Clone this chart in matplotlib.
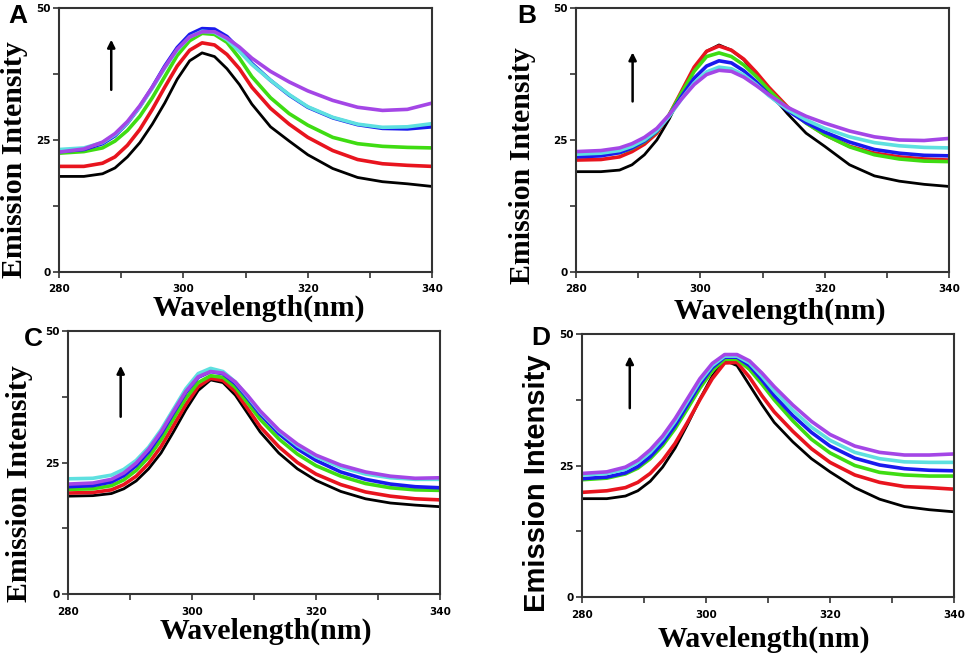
import numpy as np
import matplotlib
matplotlib.use("Agg")
import matplotlib.pyplot as plt
from matplotlib.ticker import MultipleLocator

# --- data ---
wl = [280, 284, 287, 289, 291, 293, 295, 297, 299, 301, 303, 305, 307, 309,
      311, 314, 317, 320, 324, 328, 332, 336, 340]

A_black = [18.1, 18.1, 18.6, 19.7, 21.8, 24.5, 28.0, 32.0, 36.5, 40.0, 41.5, 40.8, 38.5, 35.5,
           31.8, 27.5, 24.8, 22.2, 19.6, 17.9, 17.1, 16.7, 16.2]
A_red = [20.0, 20.0, 20.6, 21.8, 24.0, 27.0, 30.8, 35.0, 39.0, 42.0, 43.4, 43.0, 41.2, 38.5,
         35.0, 31.0, 28.0, 25.5, 23.0, 21.3, 20.5, 20.2, 20.0]
A_green = [22.5, 22.8, 23.5, 24.8, 26.8, 29.5, 33.0, 37.0, 41.0, 43.8, 45.2, 45.0, 43.5, 40.5,
           37.0, 33.0, 30.0, 27.8, 25.5, 24.3, 23.8, 23.6, 23.5]
A_cyan = [23.2, 23.5, 24.5, 26.0, 28.3, 31.3, 34.8, 38.6, 42.0, 44.5, 45.6, 45.4, 44.0, 41.8,
          39.3, 36.3, 33.6, 31.3, 29.3, 28.0, 27.4, 27.5, 28.1]
A_blue = [22.8, 23.2, 24.3, 25.8, 28.2, 31.3, 35.0, 39.0, 42.5, 45.0, 46.1, 46.0, 44.6, 42.2,
          39.5, 36.3, 33.5, 31.2, 29.2, 27.9, 27.2, 27.1, 27.5]
A_violet = [22.7, 23.3, 24.6, 26.2, 28.5, 31.5, 35.0, 38.8, 42.2, 44.5, 45.5, 45.5, 44.3, 42.6,
            40.5, 38.0, 36.0, 34.3, 32.5, 31.2, 30.6, 30.8, 32.0]

B_black = [19.0, 19.0, 19.3, 20.3, 22.2, 25.0, 29.0, 33.8, 38.5, 41.8, 43.0, 42.0, 40.2, 37.3,
           34.2, 30.0, 26.3, 23.8, 20.3, 18.2, 17.2, 16.6, 16.2]
B_red = [21.2, 21.3, 21.8, 22.8, 24.2, 26.3, 29.8, 34.3, 38.8, 41.8, 42.8, 42.0, 40.3, 37.8,
         35.0, 31.3, 28.3, 26.0, 23.8, 22.5, 21.8, 21.4, 21.2]
B_green = [22.0, 22.2, 22.6, 23.4, 24.7, 26.6, 29.8, 34.0, 38.0, 40.8, 41.5, 40.8, 39.2, 37.0,
           34.5, 31.0, 28.2, 26.0, 23.7, 22.2, 21.4, 21.0, 20.9]
B_cyan = [22.3, 22.5, 23.0, 23.8, 25.0, 26.8, 29.5, 32.8, 35.8, 37.9, 38.8, 38.5, 37.3, 35.5,
          33.4, 30.8, 28.8, 27.2, 25.6, 24.5, 23.9, 23.6, 23.5]
B_blue = [21.8, 22.0, 22.6, 23.5, 24.8, 26.7, 29.6, 33.3, 36.7, 39.0, 40.0, 39.6, 38.1, 36.0,
          33.6, 30.6, 28.3, 26.5, 24.6, 23.2, 22.5, 22.1, 22.0]
B_violet = [22.8, 23.0, 23.5, 24.3, 25.5, 27.2, 29.8, 32.8, 35.5, 37.4, 38.2, 38.0, 36.9, 35.3,
            33.6, 31.2, 29.5, 28.2, 26.7, 25.6, 25.0, 24.9, 25.3]

C_black = [18.6, 18.7, 19.1, 20.0, 21.5, 23.8, 26.8, 30.8, 35.0, 38.7, 40.7, 40.2, 37.8, 34.3,
           30.8, 26.8, 23.8, 21.6, 19.5, 18.1, 17.3, 16.9, 16.6]
C_red = [19.2, 19.3, 19.8, 20.8, 22.4, 24.8, 28.0, 32.0, 36.0, 39.4, 41.0, 40.6, 38.5, 35.2,
         31.8, 28.0, 25.0, 22.8, 20.8, 19.4, 18.6, 18.1, 17.9]
C_green = [19.9, 20.0, 20.6, 21.7, 23.5, 26.0, 29.3, 33.3, 37.2, 40.2, 41.5, 41.2, 39.3, 36.3,
           33.2, 29.5, 26.6, 24.4, 22.4, 21.0, 20.2, 19.8, 19.7]
C_cyan = [21.9, 22.0, 22.6, 23.7, 25.4, 27.9, 31.2, 35.1, 39.0, 41.9, 42.9, 42.3, 40.3, 37.5,
          34.6, 31.0, 28.2, 26.1, 24.1, 22.8, 22.1, 21.8, 21.8]
C_blue = [20.4, 20.6, 21.3, 22.5, 24.4, 27.0, 30.4, 34.4, 38.3, 41.2, 42.3, 41.9, 40.0, 37.2,
          34.2, 30.5, 27.6, 25.4, 23.2, 21.8, 20.9, 20.4, 20.2]
C_violet = [20.9, 21.1, 21.8, 23.0, 24.9, 27.5, 30.8, 34.7, 38.5, 41.3, 42.3, 42.0, 40.3, 37.7,
            34.8, 31.2, 28.5, 26.4, 24.5, 23.2, 22.4, 22.0, 22.1]

D_black = [18.7, 18.7, 19.2, 20.2, 22.0, 24.7, 28.3, 32.8, 37.6, 42.0, 45.0, 44.0, 40.3, 36.6,
           33.2, 29.5, 26.3, 23.8, 20.8, 18.6, 17.2, 16.6, 16.2]
D_red = [19.9, 20.2, 20.8, 21.8, 23.5, 26.0, 29.2, 33.2, 37.5, 41.5, 44.5, 44.6, 41.8, 38.3,
         35.2, 31.5, 28.2, 25.6, 23.2, 21.8, 21.0, 20.8, 20.5]
D_green = [22.3, 22.6, 23.4, 24.5, 26.3, 28.8, 32.0, 35.8, 39.7, 43.0, 45.2, 45.2, 43.3, 40.5,
           37.5, 33.5, 30.0, 27.4, 25.0, 23.7, 23.2, 23.0, 23.0]
D_cyan = [23.2, 23.5, 24.3, 25.6, 27.5, 30.1, 33.4, 37.2, 41.0, 44.0, 45.8, 45.8, 44.5, 42.0,
          39.2, 35.5, 32.3, 29.8, 27.5, 26.3, 25.7, 25.6, 25.6]
D_blue = [22.5, 22.8, 23.6, 24.8, 26.7, 29.3, 32.6, 36.5, 40.4, 43.6, 45.6, 45.6, 44.0, 41.3,
          38.3, 34.5, 31.3, 28.7, 26.4, 25.1, 24.4, 24.1, 24.0]
D_violet = [23.5, 23.8, 24.7, 26.0, 28.0, 30.6, 33.9, 37.7, 41.5, 44.4, 46.1, 46.1, 44.9, 42.6,
            40.0, 36.5, 33.4, 30.9, 28.7, 27.5, 27.0, 27.0, 27.2]

panels = ["A", "B", "C", "D"]
curves = {
    "A": [A_black, A_red, A_green, A_blue, A_cyan, A_violet],
    "B": [B_black, B_red, B_green, B_blue, B_cyan, B_violet],
    "C": [C_black, C_red, C_green, C_blue, C_cyan, C_violet],
    "D": [D_black, D_red, D_green, D_blue, D_cyan, D_violet],
}
colors = ["#000000", "#e8141e", "#3fdc12", "#1a1aee", "#5ee0e0", "#a446e6"]
widths = [2.0, 2.6, 2.6, 2.6, 2.6, 2.6]

# arrow (x, y_start, y_end) in data units
arrows = {"A": (288.4, 34.5, 44.0), "B": (289.1, 32.3, 41.6),
          "C": (288.5, 33.7, 43.4), "D": (287.7, 35.9, 45.8)}

# layout (figure fractions / pixels)
axes_pos = {"A": [0.061, 0.5854, 0.386, 0.4024],
            "B": [0.5957, 0.5854, 0.3857, 0.4024],
            "C": [0.0703, 0.0945, 0.3847, 0.4009],
            "D": [0.6019, 0.0899, 0.3847, 0.4009]}
letter_xy = {"A": (18, 16), "B": (527, 16), "C": (33, 339), "D": (541, 338)}
ylab_xy = {"A": (15, 160), "B": (523, 166), "C": (20, 484), "D": (537, 483)}
xlab_xy = {"A": (259, 308), "B": (780, 311), "C": (266, 631), "D": (764, 639)}

W, H = 967, 656
fig = plt.figure(figsize=(W / 100, H / 100), dpi=100)

for p in panels:
    ax = fig.add_axes(axes_pos[p])
    for y, c, lw in zip(curves[p], colors, widths):
        ax.plot(wl, y, color=c, lw=lw, solid_capstyle="round")
    ax.set_xlim(280, 340)
    ax.set_ylim(0, 50)
    ax.xaxis.set_major_locator(MultipleLocator(20))
    ax.xaxis.set_minor_locator(MultipleLocator(10))
    ax.yaxis.set_major_locator(MultipleLocator(25))
    ax.yaxis.set_minor_locator(MultipleLocator(12.5))
    ax.tick_params(which="both", direction="out", length=4, width=1.2, color="#333333")
    ax.tick_params(labelsize=7.5, pad=2)
    ax.tick_params(axis="x", pad=5)
    for lab in ax.get_xticklabels() + ax.get_yticklabels():
        lab.set_fontweight("bold")
    for s in ax.spines.values():
        s.set_linewidth(1.5)
        s.set_color("#333333")
    ax_x, y0, y1 = arrows[p]
    ax.annotate("", xy=(ax_x, y1), xytext=(ax_x, y0),
                arrowprops=dict(arrowstyle="-|>", color="black", lw=1.8,
                                mutation_scale=11, shrinkA=0, shrinkB=0))

    lx, ly = letter_xy[p]
    fig.text(lx / W, 1 - ly / H, p, fontsize=19, fontweight="bold",
             family="Liberation Sans", ha="center", va="center")
    yx, yy = ylab_xy[p]
    yfam = "Liberation Sans" if p == "D" else "Liberation Serif"
    fig.text(yx / W, 1 - yy / H, "Emission Intensity", fontsize=21.5 if p != "D" else 21,
             fontweight="bold", family=yfam, rotation=90, ha="center", va="center")
    xx, xy = xlab_xy[p]
    fig.text(xx / W, 1 - xy / H, "Wavelength(nm)", fontsize=21.5, fontweight="bold",
             family="Liberation Serif", ha="center", va="center")

fig.savefig("out.png", dpi=100)
